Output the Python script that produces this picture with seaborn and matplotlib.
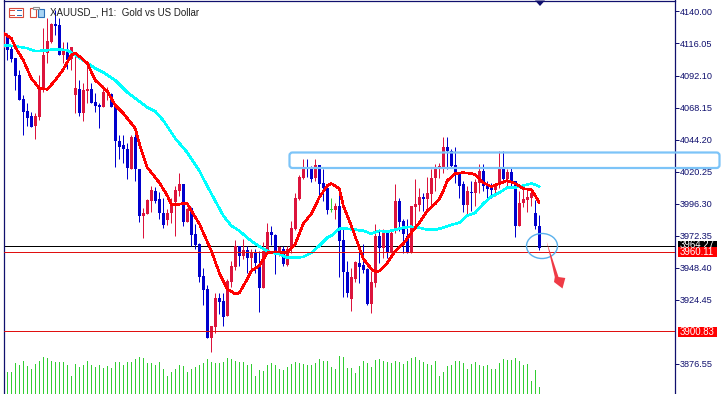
import numpy as np
import pandas as pd
import seaborn as sns
import matplotlib
matplotlib.use("Agg")
import matplotlib.pyplot as plt
from matplotlib.patches import Rectangle, FancyBboxPatch, Ellipse, Polygon
from matplotlib.transforms import Affine2D

highs = [4123.8,4123.8,4114.8,4105,4096,4077.3,4071.3,4064.5,4063.8,4092.3,4127.5,4135,4131.3,4141,4135,4117,4117,4113.3,4108.8,4088.5,
 4086.3,4099.8,4086.3,4078.8,4071.3,4084.8,4083.3,4078.8,4071.3,4047.3,4047.3,4042,4047.3,4052.5,4022.5,3993.3,4000,4009.8,4009,4005.3,
 4000.8,3992.5,4000.8,4009.8,4019.5,4011.3,3993.3,3994,3981.3,3967,3948.3,3935.5,3904.8,3929.5,3929.5,3929.5,3940,3953.5,3969.3,3964.8,
 3970,3964.8,3962.5,3962.5,3961,3967.8,3982,3979.8,3973.8,3964.8,3964.8,3964.8,3983.5,4004.5,4018,4029.3,4029.3,4024.8,4030,4025.5,
 4022.5,4009.8,4000.8,3997,4003.8,3977.5,3953.5,3948.3,3953.5,3963.3,3966.3,3948.3,3946,3981.3,3977.5,3977.5,3976,3976,4011.3,4000.8,
 3985,3985,3994.8,4015,4008.3,4004.5,4016.5,4022.5,4026.3,4027,4045.8,4045.8,4037.5,4039,4019.5,4013.5,4009.8,4013.5,4015,4026.3,
 4026.3,4013.5,4012,4011.3,4036,4035.3,4022.5,4023.3,4013.5,4006,4007.5,4008.3,4007.5,3999.3,3988]
opens = [4112.5,4120.8,4111.8,4105,4092.3,4074.3,4065.3,4061.5,4054,4060.8,4081,4108.8,4117,4130.5,4129.8,4107.3,4110.3,4104.3,4077.3,4081.8,
 4063.8,4080.3,4081.8,4072,4069.8,4068.3,4078.8,4078,4068.3,4043.5,4039.8,4037.5,4022.5,4045.8,4022.5,3987.3,3988.8,3998.5,4006,4000,
 3989.5,3984.3,3989.5,3997.8,4006,4011.3,3982.8,3993.3,3973.8,3966.3,3942.3,3932.5,3895.8,3904,3925.8,3923.5,3912.3,3937.8,3949,3964.8,
 3957.3,3961.8,3955.8,3959.5,3951.3,3933.3,3961,3975.3,3973,3960.3,3962.5,3950.5,3962.5,3977.5,4000,4015.8,4024,4023.3,4015.8,4025.5,
 4012,4008.3,3991.8,3991.8,3994.8,3969.3,3945.3,3925,3940,3952,3950.5,3947.5,3921.3,3937,3972.3,3963.3,3975.3,3959.5,3976.8,3998.5,
 3983.5,3972.3,3959.5,3994,3995.5,4001.5,4000,4003.8,4015.8,4022.5,4023.3,4038.3,4036,4025.5,4018.8,4011.3,3995.5,4005.3,4004.5,4012,
 4021,4010.5,4008.3,4006.8,4010.5,4023.3,4015,4020.3,4013.5,3979.8,3997,3999.3,4000.8,3989.5,3979.8]
closes = [4122.3,4111,4104.3,4091.5,4073.5,4064.5,4060,4053.3,4061.5,4083.3,4107.3,4117.8,4130.5,4129,4107.3,4110.3,4103.5,4113.3,4082.5,4063.8,
 4081,4081.8,4071.3,4069,4068.3,4079.5,4079.5,4068.3,4042.8,4039,4036.8,4023.3,4045.8,4022.5,3987.3,3989.5,3999.3,4006.8,3998.5,3989.5,
 3980.5,3989.5,3996.3,4006.8,4011.3,3982.8,3992.5,3973,3965.5,3941.5,3931.8,3895.8,3904.8,3925.8,3922.8,3911.5,3938.5,3949.8,3964.8,3957.3,
 3961.8,3955.8,3960.3,3952,3933.3,3961,3975.3,3973,3959.5,3964,3951.3,3962.5,3978.3,4000.8,4016.5,4024,4022.5,4015,4025.5,4011.3,
 4008.3,3991.8,3992.5,3994.8,3968.5,3945.3,3929.5,3941.5,3952.8,3949,3946.8,3921.3,3937.8,3972.3,3963.3,3975.3,3959.5,3974.5,3998.5,3982.8,
 3973.8,3960.3,3994.8,3996.3,4001.5,4000,4004.5,4015.8,4023.3,4024.8,4038.3,4036,4024.8,4018.8,4009.8,3995.5,4006,4004.5,4012.8,4021,
 4009.8,4007.5,4006.8,4009.8,4023.3,4015,4020.3,4013.5,3979.8,3997,4000,4001.5,4004.5,3979.8,3963.3]
lows = [4108.8,4103.5,4102,4081,4073.5,4047.3,4054,4053.3,4044.3,4058.5,4079.5,4101.3,4116.3,4122.3,4107.3,4101.3,4096.8,4096,4063.8,4061.5,
 4057.8,4071.3,4071.3,4064.5,4052.5,4068.3,4073.5,4068.3,4024,4029.3,4027,4015,4022.5,4013.5,3982.8,3970.8,3988.8,3990.3,3997,3985,
 3978.3,3980.5,3982,3972.3,4002.3,3979.8,3982.8,3964.8,3962.5,3937.8,3920.5,3895.8,3885.3,3899.5,3913.8,3904.8,3912.3,3934,3946.8,3949.8,
 3955,3944.5,3947.5,3944.5,3915.3,3933.3,3959.5,3965.5,3943.8,3957.3,3949.8,3949.8,3959.5,3976.8,3999.3,4015,4016.5,4012.8,4013.5,4002.3,
 3998.5,3988.8,3990.3,3985,3941.5,3926.5,3926.5,3916,3937.8,3937,3944.5,3920.5,3914.5,3934,3952,3955.8,3955.8,3959.5,3974.5,3976,
 3959.5,3959.5,3959.5,3978.3,3991,3991,3991,3994.8,4006,4015.8,4019.5,4022.5,4023.3,4012,4000.8,3990.3,3988,3991,3994.8,4004.5,
 4006,3999.3,4000.8,4002.3,4008.3,4012,4009.8,4008.3,3971.5,3979.8,3994,3990.3,3994.8,3977.5,3961.8]
volumes = [67,67,67,94,87,99,84,75,90,100,111,108,99,95,95,95,87,55,90,82,87,99,87,82,87,79,84,79,95,96,87,
 96,97,104,111,109,94,94,87,96,75,55,65,75,87,84,65,75,81,87,94,105,96,94,94,96,109,104,99,95,95,
 87,90,55,72,69,87,94,87,75,72,81,91,96,94,90,87,87,94,105,99,99,81,75,114,111,79,79,64,84,99,
 94,81,102,105,99,97,94,99,95,89,99,109,111,102,95,89,87,99,55,67,84,87,99,99,92,75,90,95,87,84,
 87,75,75,94,105,102,102,109,99,87,90,40,72,22]
doji_bar = 82

fast_idx = [0,2,3,5,7,9,11,13,15,17,18,19,21,23,26,28,30,32,33,34,36,39,41,42,43,45,46,47,49,50,52,54,56,58,59,61,62,64,66,68,71,73,75,77,79,81,82,84,85,87,89,90,92,93,94,96,98,100,102,104,106,108,109,110,111,113,115,117,118,120,122,124,126,128,130,132,133,134]
fast_ma = [4123.8,4120,4113.3,4103.5,4090,4082.5,4081.8,4088.5,4096.8,4107.3,4108.8,4106.5,4101.3,4088.5,4080.3,4069.8,4063.8,4056.3,4052.5,4041.3,4023.3,4012,4002.3,3995.5,3995.5,3996.3,3996.3,3991,3981.3,3974.5,3961,3944.5,3932.5,3928.8,3929.5,3940,3946,3949.8,3959.5,3960.3,3959.5,3966.3,3981.3,3988.8,4000.8,4009.8,4011.3,4007.5,3994.8,3979.8,3963.3,3955,3947.5,3945.3,3946,3952,3961,3966.3,3974.5,3982,3991,3996.3,4000,4006,4013.5,4018.8,4019.5,4018.8,4018,4012,4009,4011.3,4013.5,4011.3,4007.5,4006.8,4002.3,3997]
slow_idx = [0,3,6,8,11,13,16,18,21,23,25,28,31,33,36,38,40,43,46,49,50,52,55,57,59,61,63,65,67,69,71,73,75,77,79,81,82,84,86,88,90,92,94,96,98,100,102,104,106,108,110,112,114,116,118,120,122,124,126,128,130,132,133,134]
slow_ma = [4114.8,4114,4112.5,4110.3,4111,4111.8,4111,4107.3,4101.3,4097.5,4094.5,4088.5,4079.5,4075,4068.3,4065.3,4058.5,4045,4034.5,4021,4015,4003.8,3987.3,3979.8,3976,3970.8,3966.3,3962.5,3959.5,3958.8,3955.8,3955.8,3956.5,3959.5,3964.8,3970.8,3972.3,3977.5,3977.5,3976.8,3976,3973.8,3976,3975.3,3976.8,3978.3,3979,3978.3,3976.8,3976.8,3978.3,3980.5,3982,3987.3,3989.5,3996.3,4001.5,4004.5,4008.3,4008.3,4009.8,4011.3,4010.5,4009]

tick_values = [4140.00,4116.05,4092.10,4068.15,4044.20,4020.25,3996.30,3972.35,3948.40,3924.45,3876.55]
tick_labels = ["4140.00","4116.05","4092.10","4068.15","4044.20","4020.25","3996.30","3972.35","3948.40","3924.45","3876.55"]
level_values = [3964.27, 3960.11, 3900.83]
level_labels = ["3964.27", "3960.11", "3900.83"]
title = "XAUUSD_, H1:  Gold vs US Dollar"

W, H = 727, 394
NAVY = "#10106e"; RED = "#dc143c"; BLUE = "#0000cd"; GREEN = "#32cd32"

sns.set_theme(style="white")
plt.rcParams["font.family"] = ["Liberation Sans", "DejaVu Sans"]
fig = plt.figure(figsize=(W/100, H/100), dpi=100, facecolor="white")
L, R, T = 3.5, 674.5, 0.5
ax = fig.add_axes([L/W, 0, (R-L)/W, (H-T)/H], facecolor="none")
px = Affine2D().scale(1, -1).translate(0, H)   # decoration helper: image pixels to display

n = len(opens)
idx = np.arange(n)
df = pd.DataFrame({"i": idx, "o": opens, "h": highs, "l": lows, "c": closes})
df["top"] = df[["o", "c"]].max(axis=1)
df["bot"] = df[["o", "c"]].min(axis=1)
df["color"] = np.where(df.c >= df.o, RED, BLUE)
df.loc[doji_bar, "color"] = GREEN

ytop = 4148.2; ybot = ytop - 0.7478*(H-T)
ax.set_ylim(ybot, ytop)
ax.set_xlim((L-3.3)/4, (R-3.3)/4)

# volume on a second transparent axes
axv = fig.add_axes(ax.get_position(), facecolor="none", zorder=0)
ax.set_zorder(1)
sns.barplot(x=idx, y=volumes, native_scale=True, color=GREEN, width=0.25, saturation=1, ax=axv, linewidth=0)
axv.set_xlim(ax.get_xlim()); axv.set_ylim(0, (H-T)*3); axv.axis("off")

ax.vlines(df.i, df.l, df.h, colors=df.color, linewidth=0.72, zorder=2)
ax.bar(df.i, df.top-df.bot, bottom=df.bot, width=0.75, color=df.color, linewidth=0, zorder=3)

sns.lineplot(x=slow_idx, y=slow_ma, color="#00ffff", linewidth=1.15, ax=ax, zorder=4, antialiased=False, errorbar=None)
sns.lineplot(x=fast_idx, y=fast_ma, color="#ff0000", linewidth=1.15, ax=ax, zorder=5, antialiased=False, errorbar=None)

ax.axhline(level_values[0], color="black", linewidth=0.72, zorder=1.5)
ax.axhline(level_values[1], color="#e01010", linewidth=0.72, zorder=6)
ax.axhline(level_values[2], color="#e01010", linewidth=0.72, zorder=6)

ax.spines["bottom"].set_visible(False)
for s in ["left", "right", "top"]:
    ax.spines[s].set_color(NAVY); ax.spines[s].set_linewidth(0.9)
ax.set_xticks([])
ax.yaxis.tick_right()
ax.set_yticks(tick_values, tick_labels)
ax.tick_params(axis="y", direction="out", length=3.2, width=0.72, color=NAVY, labelcolor=NAVY, labelsize=6.6, pad=0.5, right=True)
ax.set_xlabel(""); ax.set_ylabel("")

# level labels: the black one sits partly behind the red one, as in the terminal
fig.add_artist(Rectangle((677.5, 241), 39, 7, transform=px, facecolor="black", edgecolor="none", zorder=2))
fig.text(697, 245.5, level_labels[0], color="white", fontsize=6.9, ha="center", va="center", transform=px, zorder=2.5)
fig.add_artist(Rectangle((677.5, 247), 39, 9.5, transform=px, facecolor="#ff0000", edgecolor="none", zorder=3))
fig.text(697, 251.8, level_labels[1], color="white", fontsize=6.9, ha="center", va="center", transform=px, zorder=3.5)
fig.add_artist(Rectangle((677.5, 327), 39, 10, transform=px, facecolor="#ff0000", edgecolor="none", zorder=3))
fig.text(697, 332, level_labels[2], color="white", fontsize=6.9, ha="center", va="center", transform=px, zorder=3.5)

# drawn objects
fig.add_artist(FancyBboxPatch((291, 154), 427, 12.5, boxstyle="round,pad=1.5,rounding_size=3", transform=px,
                              facecolor="none", edgecolor="#7cc4f8", linewidth=1.6, zorder=10))
fig.add_artist(Ellipse((542, 246), 31, 25, transform=px, facecolor="none", edgecolor="#58b0ec", linewidth=1.0, zorder=10))
fig.add_artist(Polygon([(546.7, 241.7), (558.5, 277), (565.3, 278), (562.5, 288.5), (554, 282), (554.8, 277)],
                       closed=True, transform=px, facecolor="#ef3b46", edgecolor="none", zorder=10))
fig.add_artist(Polygon([(535, 0.5), (545, 0.5), (540, 6)], closed=True, transform=px, facecolor="#10106e", edgecolor="none", zorder=10))

# title and icons
fig.text(49.5, 12.5, title, color="#202020", fontsize=7.0, ha="left", va="center", transform=px)
fig.add_artist(Rectangle((8.5, 8), 14.5, 9, transform=px, facecolor="white", edgecolor="#d94a3a", linewidth=0.8))
for y in (10, 12.5, 15):
    fig.add_artist(Rectangle((10, y), 5, 0.8, transform=px, facecolor="#d94a3a", edgecolor="none"))
    fig.add_artist(Rectangle((16.5, y), 5, 0.8, transform=px, facecolor="#2a6fb8", edgecolor="none"))
fig.add_artist(Rectangle((29.5, 8), 6, 9, transform=px, facecolor="white", edgecolor="#d94a3a", linewidth=0.8))
fig.add_artist(Rectangle((37.5, 9), 6, 8, transform=px, facecolor="#a8d4f4", edgecolor="#2a6fb8", linewidth=0.8))
fig.add_artist(Rectangle((33, 6.5), 6, 2.5, transform=px, facecolor="white", edgecolor="#909090", linewidth=0.8))

fig.savefig("out.png", dpi=100, facecolor="white")
